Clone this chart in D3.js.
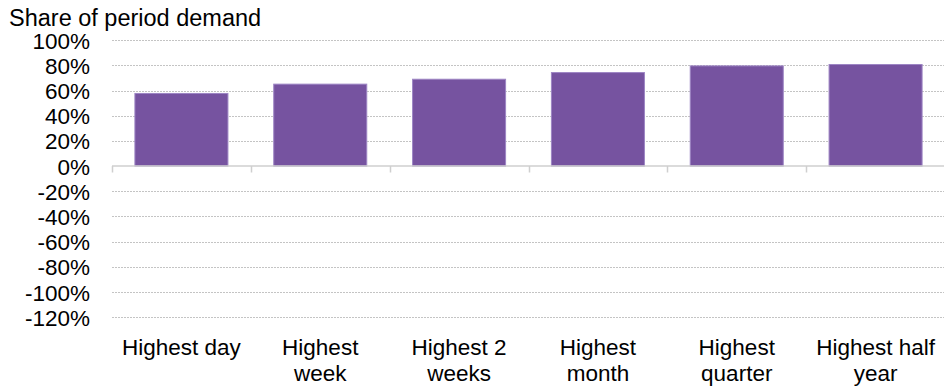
<!DOCTYPE html>
<html>
<head>
<meta charset="utf-8">
<script src="https://cdn.jsdelivr.net/npm/d3@7"></script>
<style>
  html, body { margin: 0; padding: 0; background: #fff; }
  svg { display: block; }
  text { font-family: "Liberation Sans", Arial, sans-serif; fill: #000; }
</style>
</head>
<body>
<svg id="chart" width="944" height="387"></svg>
<script>
const categories = ["Highest day", "Highest week", "Highest 2 weeks", "Highest month", "Highest quarter", "Highest half year"];
const labelLines = [["Highest day"], ["Highest", "week"], ["Highest 2", "weeks"], ["Highest", "month"], ["Highest", "quarter"], ["Highest half", "year"]];
const values = [0.577, 0.651, 0.690, 0.743, 0.796, 0.807];
const yTicks = [1.0, 0.8, 0.6, 0.4, 0.2, 0, -0.2, -0.4, -0.6, -0.8, -1.0, -1.2];
const title = "Share of period demand";

const svg = d3.select("#chart");
const plotLeft = 112, plotRight = 945, plotTop = 40.2, plotBottom = 317.2;

const x = d3.scaleBand().domain(categories).range([plotLeft, plotRight]).paddingInner(0.33).paddingOuter(0.165);
const xb = d3.scaleBand().domain(categories).range([plotLeft, plotRight]);
const y = d3.scaleLinear().domain([-1.2, 1.0]).range([plotBottom, plotTop]);

// gridlines
svg.append("g").selectAll("line").data(yTicks.filter(d => d !== 0)).join("line")
  .attr("x1", plotLeft).attr("x2", 944)
  .attr("y1", d => Math.round(y(d)) + 0.5).attr("y2", d => Math.round(y(d)) + 0.5)
  .attr("stroke", "#c4c4c4").attr("stroke-width", 1).attr("stroke-dasharray", "2,1");

// bars
svg.append("g").selectAll("rect").data(values).join("rect")
  .attr("x", (d, i) => x(categories[i]))
  .attr("width", x.bandwidth())
  .attr("y", d => y(d))
  .attr("height", d => y(0) - y(d))
  .attr("fill", "#7653A0")
  .attr("stroke", "#9D85C4").attr("stroke-width", 1);

// zero axis line and ticks
const y0 = Math.round(y(0));
svg.append("line").attr("x1", plotLeft).attr("x2", 944).attr("y1", y0).attr("y2", y0)
  .attr("stroke", "#cfcfcf").attr("stroke-width", 1.5);
svg.append("g").selectAll("line").data(categories).join("line")
  .attr("x1", d => Math.round(xb(d)) + 0.5).attr("x2", d => Math.round(xb(d)) + 0.5)
  .attr("y1", y0).attr("y2", y0 + 6.5)
  .attr("stroke", "#cfcfcf").attr("stroke-width", 1.5);

// y labels
const fmt = d3.format(".0%");
svg.append("g").selectAll("text").data(yTicks).join("text")
  .attr("x", 90).attr("y", d => y(d) + 8.5)
  .attr("text-anchor", "end").attr("font-size", 22.5)
  .text(d => fmt(d).replace("−", "-"));

// x labels
const xl = svg.append("g").selectAll("text").data(categories).join("text")
  .attr("x", d => xb(d) + xb.bandwidth() / 2)
  .attr("y", 354.5).attr("text-anchor", "middle").attr("font-size", 22.5);
xl.selectAll("tspan").data((d, i) => labelLines[i]).join("tspan")
  .attr("x", function() { return d3.select(this.parentNode).attr("x"); })
  .attr("dy", (d, j) => j === 0 ? 0 : 26)
  .text(d => d);

// title
svg.append("text").attr("x", 9).attr("y", 25.5).attr("font-size", 23.5).text(title);
</script>
</body>
</html>
